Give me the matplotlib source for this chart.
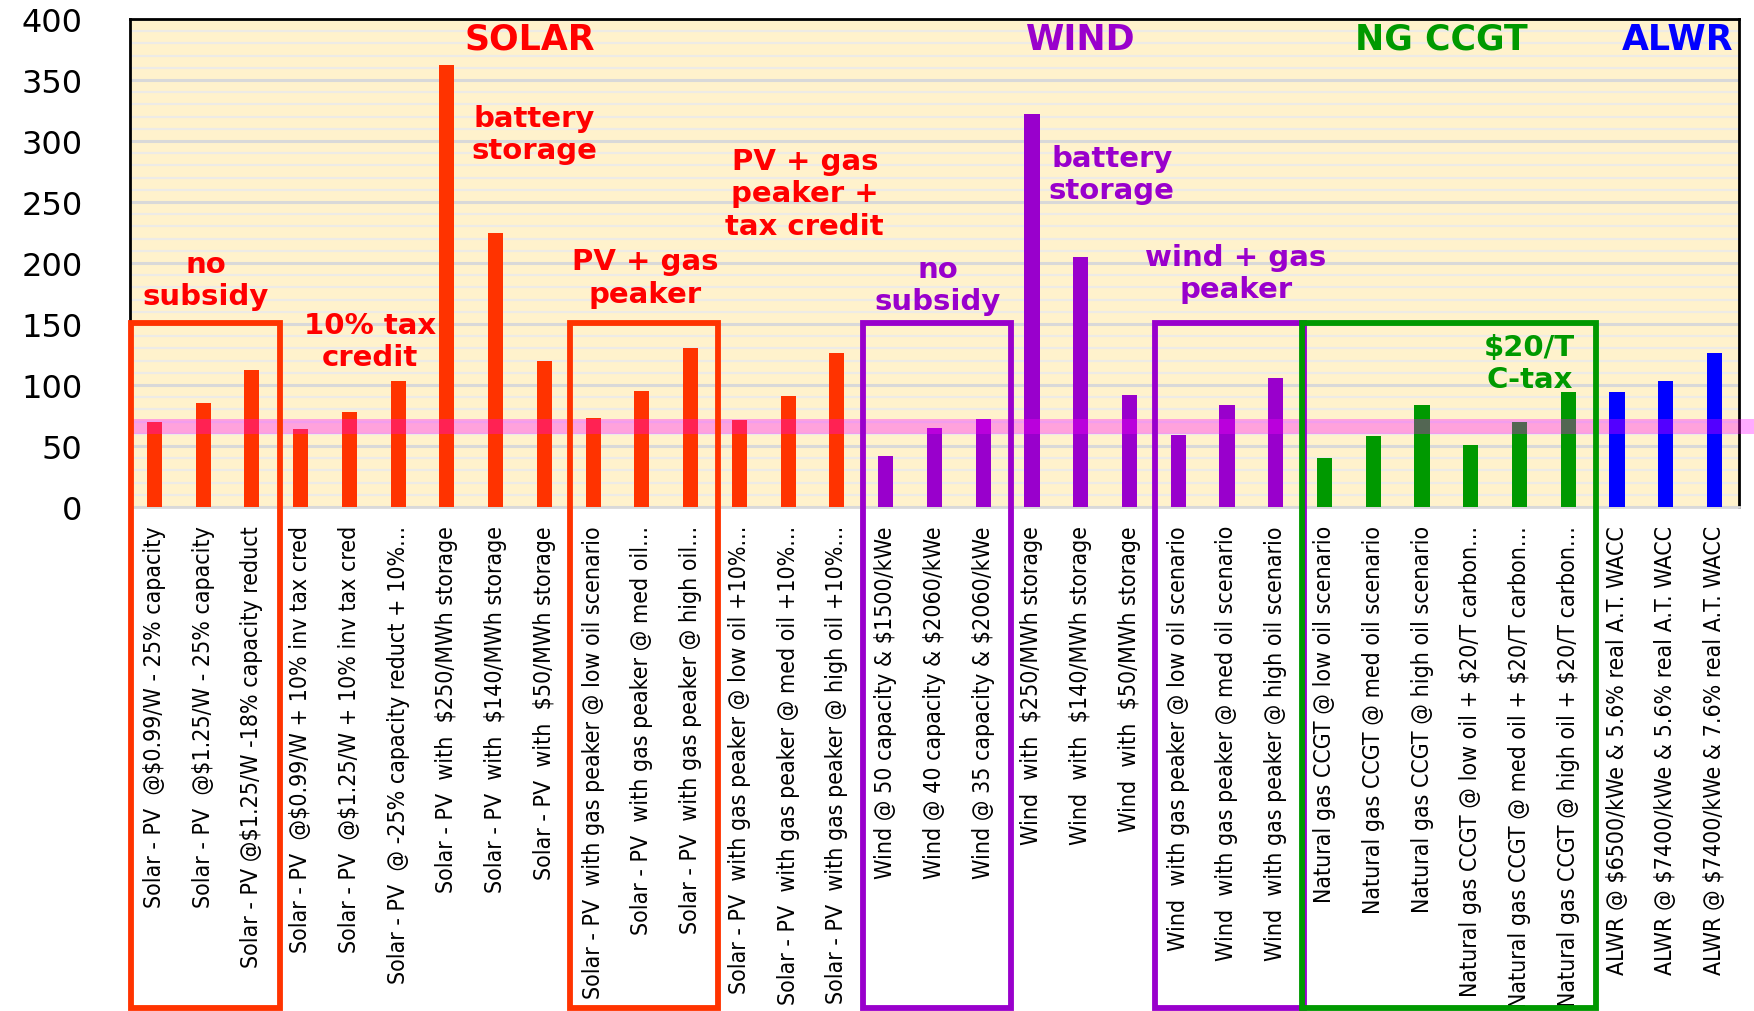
#!/usr/bin/env python3
import matplotlib
matplotlib.use("Agg")
import matplotlib.pyplot as plt
from matplotlib.patches import Rectangle

# cost per MWh for each generation scenario
labels = [
    "Solar - PV  @$0.99/W - 25% capacity",
    "Solar - PV  @$1.25/W - 25% capacity",
    "Solar - PV @$1.25/W -18% capacity reduct",
    "Solar - PV  @$0.99/W + 10% inv tax cred",
    "Solar - PV  @$1.25/W + 10% inv tax cred",
    "Solar - PV  @ -25% capacity reduct + 10%...",
    "Solar - PV  with  $250/MWh storage",
    "Solar - PV  with  $140/MWh storage",
    "Solar - PV  with  $50/MWh storage",
    "Solar - PV  with gas peaker @ low oil scenario",
    "Solar - PV  with gas peaker @ med oil...",
    "Solar - PV  with gas peaker @ high oil...",
    "Solar - PV  with gas peaker @ low oil +10%...",
    "Solar - PV  with gas peaker @ med oil +10%...",
    "Solar - PV  with gas peaker @ high oil +10%...",
    "Wind @ 50 capacity & $1500/kWe",
    "Wind @ 40 capacity & $2060/kWe",
    "Wind @ 35 capacity & $2060/kWe",
    "Wind  with  $250/MWh storage",
    "Wind  with  $140/MWh storage",
    "Wind  with  $50/MWh storage",
    "Wind  with gas peaker @ low oil scenario",
    "Wind  with gas peaker @ med oil scenario",
    "Wind  with gas peaker @ high oil scenario",
    "Natural gas CCGT @ low oil scenario",
    "Natural gas CCGT @ med oil scenario",
    "Natural gas CCGT @ high oil scenario",
    "Natural gas CCGT @ low oil + $20/T carbon...",
    "Natural gas CCGT @ med oil + $20/T carbon...",
    "Natural gas CCGT @ high oil + $20/T carbon...",
    "ALWR @ $6500/kWe & 5.6% real A.T. WACC",
    "ALWR @ $7400/kWe & 5.6% real A.T. WACC",
    "ALWR @ $7400/kWe & 7.6% real A.T. WACC",
]
values = [70, 85, 112, 64, 78, 103, 362, 225, 120,
          73, 95, 130, 71, 91, 126,
          42, 65, 72, 322, 205, 92, 59, 84, 106,
          40, 58, 84, 51, 70, 94,
          94, 103, 126]
tech = ["solar"] * 15 + ["wind"] * 9 + ["gas"] * 6 + ["alwr"] * 3

tech_colors = {"solar": "#FF3300", "wind": "#9900CC", "gas": "#009900", "alwr": "#0000FF"}
text_colors = {"solar": "#FF0000", "wind": "#9900CC", "gas": "#009900", "alwr": "#0000FF"}

# (first bar, last bar, technology) for the outlined groups
groups = [(0, 2, "solar"), (9, 11, "solar"), (15, 17, "wind"), (21, 23, "wind"), (24, 29, "gas")]

# band of today's wholesale price
band_low, band_high = 60, 72

fig = plt.figure(figsize=(17.54, 10.12), dpi=100)
ax = fig.add_axes([0.0741, 0.498, 0.9173, 0.4822])
ax.set_facecolor("#FFF2CC")

x = list(range(len(values)))
ax.bar(x, values, width=0.31, color=[tech_colors[t] for t in tech], zorder=3)

ax.set_xlim(-0.5, len(values) - 0.5)
ax.set_ylim(0, 400)
ax.set_yticks(range(0, 401, 50))
ax.set_yticks(range(0, 401, 10), minor=True)
ax.grid(which="major", axis="y", color="#D9D9D9", linewidth=2.2, zorder=0)
ax.grid(which="minor", axis="y", color="#EDEBE6", linewidth=1.6, zorder=0)
ax.tick_params(axis="y", which="both", length=0, pad=34, labelsize=23, labelcolor="black")

ax.set_xticks(x)
ax.set_xticklabels(labels, rotation=90, fontsize=16.6, fontstretch="condensed",
                   family="DejaVu Sans")
ax.tick_params(axis="x", length=0, pad=13)

for side in ["left", "top", "right"]:
    ax.spines[side].set_color("black")
    ax.spines[side].set_linewidth(2)
ax.spines["bottom"].set_color("#D9D9D9")
ax.spines["bottom"].set_linewidth(2)

# price band runs across the plot and out to the page edge
ax.add_patch(Rectangle((-0.5, band_low), 34.5, band_high - band_low,
                       facecolor="#FF00FF", alpha=0.33, edgecolor="none",
                       clip_on=False, zorder=4))

# group outlines drop down through the tick labels
for first, last, t in groups:
    left = first - 0.47
    right = last + 0.57
    ax.add_patch(Rectangle((left, -411), right - left, 562, fill=False,
                           edgecolor=tech_colors[t], linewidth=4.2,
                           clip_on=False, zorder=5))

title_kw = dict(ha="center", va="center", fontsize=25, fontweight="bold", zorder=6)
ax.text(7.7, 384, "SOLAR", color=text_colors["solar"], **title_kw)
ax.text(19.0, 384, "WIND", color=text_colors["wind"], **title_kw)
ax.text(26.4, 384, "NG CCGT", color=text_colors["gas"], **title_kw)
ax.text(31.25, 384, "ALWR", color=text_colors["alwr"], clip_on=True, **title_kw)

note_kw = dict(ha="center", va="center", fontsize=21, fontweight="bold",
               linespacing=1.2, zorder=6)
ax.text(1.06, 186, "no\nsubsidy", color=text_colors["solar"], **note_kw)
ax.text(4.42, 136, "10% tax\ncredit", color=text_colors["solar"], **note_kw)
ax.text(7.79, 306, "battery\nstorage", color=text_colors["solar"], **note_kw)
ax.text(10.06, 188, "PV + gas\npeaker", color=text_colors["solar"], **note_kw)
ax.text(13.34, 257, "PV + gas\npeaker +\ntax credit", color=text_colors["solar"], **note_kw)
ax.text(16.07, 182, "no\nsubsidy", color=text_colors["wind"], **note_kw)
ax.text(19.64, 273, "battery\nstorage", color=text_colors["wind"], **note_kw)
ax.text(22.18, 192, "wind + gas\npeaker", color=text_colors["wind"], **note_kw)
ax.text(28.21, 118, "$20/T\nC-tax", color=text_colors["gas"], **note_kw)

fig.savefig("out.png", dpi=100)
